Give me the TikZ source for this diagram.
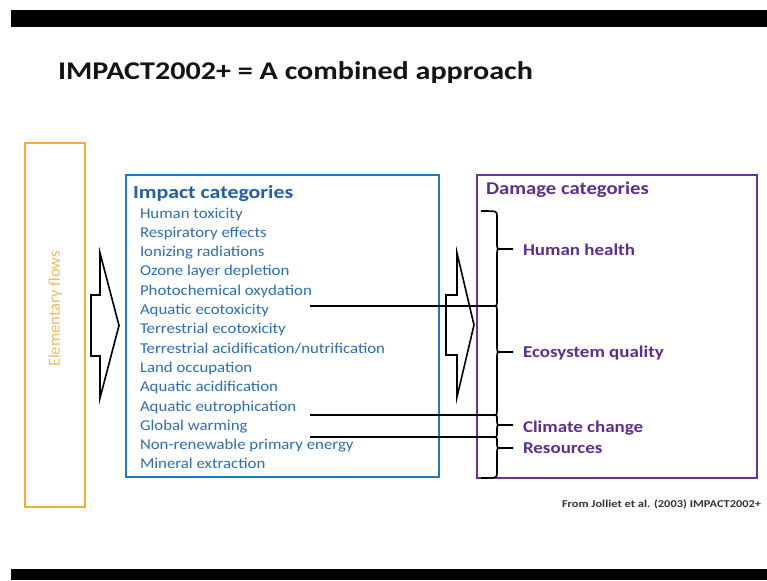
\documentclass[tikz,border=0pt]{standalone}
\usepackage{fontspec}
\setmainfont{Carlito}
\newfontfamily\ttlfont[FakeStretch=1.18]{Carlito}
\newfontfamily\itemfont[FakeStretch=1.12]{Carlito}
\newfontfamily\hdfont[FakeStretch=1.15]{Carlito}
\newfontfamily\imphdfont[FakeStretch=1.18]{Carlito}
\newfontfamily\footfont[FakeStretch=1.18]{Carlito}
\definecolor{orbox}{RGB}{240,172,60}
\definecolor{ortext}{RGB}{236,188,100}
\definecolor{blbox}{RGB}{30,122,195}
\definecolor{bltitle}{RGB}{35,95,160}
\definecolor{blitem}{RGB}{45,110,175}
\definecolor{pubox}{RGB}{105,50,155}
\definecolor{putext}{RGB}{95,45,140}
\definecolor{ttl}{RGB}{20,20,20}
\definecolor{foot}{RGB}{50,50,50}
\tikzset{
  txt/.style={inner sep=0pt, outer sep=0pt, anchor=base west},
  itemtxt/.style={txt, font=\itemfont\fontsize{15}{16}\selectfont, text=blitem},
  dmg/.style={txt, font=\hdfont\bfseries\fontsize{16.5}{18}\selectfont, text=putext},
  catbox/.style={line width=2.2pt},
  blockarrow/.style={draw=black, line width=1.6pt, fill=white, line join=miter},
  sep/.style={draw=black, line width=1.6pt},
  bracepath/.style={draw=black, line width=1.6pt},
}
\begin{document}
\begin{tikzpicture}[x=1pt,y=-1pt]
\useasboundingbox (0,0) rectangle (767,580);
\fill[white] (0,0) rectangle (767,580);
% video bars
\fill[black] (11,10) rectangle (767,27);
\fill[black] (11,569) rectangle (767,580);

% title
\node[txt, font=\ttlfont\bfseries\fontsize{25.5}{30}\selectfont, text=ttl] (title) at (58,79.5) {IMPACT2002+ = A combined approach};

% elementary flows box
\draw[catbox, draw=orbox] (25,143) rectangle (85,507);
\node[inner sep=0pt, rotate=90, font=\fontsize{16.5}{18}\selectfont, text=ortext] (elem) at (55.5,309) {Elementary flows};

% left block arrow
\draw[blockarrow] (91,295) -- (100,295) -- (100,253) -- (119,325.5) -- (100,398) -- (100,356) -- (91,356) -- cycle;

% impact categories box
\draw[catbox, draw=blbox] (126,175) rectangle (439,477);
\node[txt, font=\imphdfont\bfseries\fontsize{18.5}{20}\selectfont, text=bltitle] (imphead) at (133,198) {Impact categories};
\node[itemtxt] (i1) at (140,218.0) {Human toxicity};
\node[itemtxt] (i2) at (140,237.3) {Respiratory effects};
\node[itemtxt] (i3) at (140,256.6) {Ionizing radiations};
\node[itemtxt] (i4) at (140,275.9) {Ozone layer depletion};
\node[itemtxt] (i5) at (140,295.2) {Photochemical oxydation};
\node[itemtxt] (i6) at (140,314.5) {Aquatic ecotoxicity};
\node[itemtxt] (i7) at (140,333.8) {Terrestrial ecotoxicity};
\node[itemtxt] (i8) at (140,353.1) {Terrestrial acidification/nutrification};
\node[itemtxt] (i9) at (140,372.4) {Land occupation};
\node[itemtxt] (i10) at (140,391.7) {Aquatic acidification};
\node[itemtxt] (i11) at (140,411.0) {Aquatic eutrophication};
\node[itemtxt] (i12) at (140,430.3) {Global warming};
\node[itemtxt] (i13) at (140,449.6) {Non-renewable primary energy};
\node[itemtxt] (i14) at (140,468.9) {Mineral extraction};

% right block arrow
\draw[blockarrow] (446,295) -- (457,295) -- (457,253) -- (474,325) -- (457,397) -- (457,355) -- (446,355) -- cycle;

% damage categories box
\draw[catbox, draw=pubox] (477,175) rectangle (757,478);
\node[txt, font=\hdfont\bfseries\fontsize{18}{20}\selectfont, text=putext] (dmghead) at (486,194) {Damage categories};
\node[dmg] (hh) at (523,255.5) {Human health};
\node[dmg] (eq) at (523,357.5) {Ecosystem quality};
\node[dmg] (cc) at (523,432.5) {Climate change};
\node[dmg] (rs) at (523,453.5) {Resources};

% braces
\coordinate (j1) at (492,306);
\coordinate (j2) at (492,415);
\coordinate (j3) at (492,437);
\coordinate (t1) at (513,249);
\coordinate (t2) at (513,352);
\coordinate (t3) at (513,425);
\coordinate (t4) at (513,448);
\draw[bracepath] (481,211) .. controls (497,211) .. (497,216) -- (497,244) .. controls (497,249) .. (502,249) -- (t1);
\draw[bracepath] (502,249) .. controls (497,249) .. (497,254) -- (497,301) .. controls (497,306) .. (j1);
\draw[bracepath] (j1) .. controls (497,306) .. (497,311) -- (497,347) .. controls (497,352) .. (502,352) -- (t2);
\draw[bracepath] (502,352) .. controls (497,352) .. (497,357) -- (497,410) .. controls (497,415) .. (j2);
\draw[bracepath] (j2) .. controls (497,415) .. (497,419) -- (497,421) .. controls (497,425) .. (502,425) -- (t3);
\draw[bracepath] (502,425) .. controls (497,425) .. (497,429) -- (497,433) .. controls (497,437) .. (j3);
\draw[bracepath] (j3) .. controls (497,437) .. (497,441) -- (497,444) .. controls (497,448) .. (502,448) -- (t4);
\draw[bracepath] (502,448) .. controls (497,448) .. (497,452) -- (497,473) .. controls (497,478) .. (481,478);

% separators from impact list to braces
\coordinate (s1) at (310,306);
\coordinate (s2) at (310,415);
\coordinate (s3) at (310,437);
\draw[sep] (s1) -- (j1);
\draw[sep] (s2) -- (j2);
\draw[sep] (s3) -- (j3);

% source
\node[txt, font=\footfont\bfseries\fontsize{10.5}{13}\selectfont, text=foot] (src) at (562,507) {From Jolliet et al. (2003) IMPACT2002+};
\end{tikzpicture}
\end{document}
